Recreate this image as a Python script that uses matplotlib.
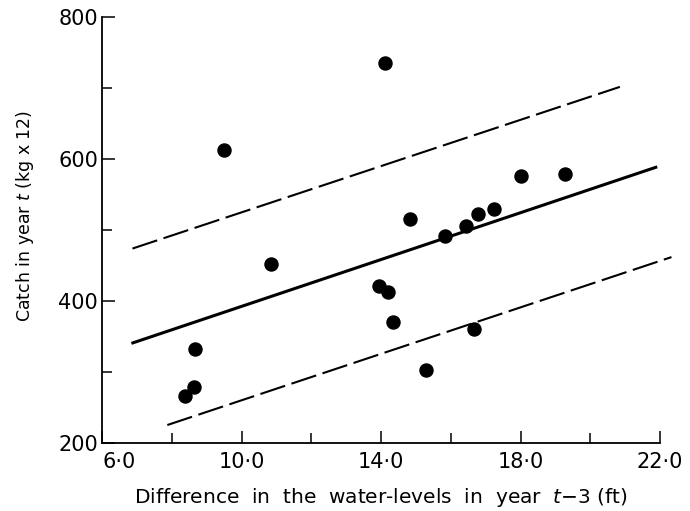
import matplotlib.pyplot as plt
from matplotlib.ticker import MultipleLocator

# water-level difference in year t-3 (ft) and catch in year t (kg x 12)
water_diff = [8.37, 8.63, 8.65, 9.50, 10.84, 14.11, 13.94, 14.21, 14.35,
              14.83, 15.30, 15.82, 16.43, 16.66, 16.79, 17.24, 18.01, 19.28]
catch = [267, 279, 333, 612, 452, 735, 421, 413, 371,
         515, 303, 491, 506, 361, 522, 530, 576, 579]

# regression line and the two limit lines (end points)
fit_x = [6.84, 21.92]
fit_y = [340.6, 589.0]
upper_x = [6.87, 20.85]
upper_y = [474.0, 701.5]
lower_x = [7.87, 22.33]
lower_y = [225.7, 462.0]

x_ticks = [6, 10, 14, 18, 22]
x_tick_labels = ['6·0', '10·0', '14·0', '18·0', '22·0']
y_ticks = [200, 400, 600, 800]

fig = plt.figure(figsize=(6.9, 5.11), dpi=100)
ax = fig.add_axes([0.148, 0.1325, 0.8085, 0.8345])

ax.plot(fit_x, fit_y, color='black', linewidth=2.2, solid_capstyle='butt')
ax.plot(upper_x, upper_y, color='black', linewidth=1.5, dashes=(12.5, 3.2))
ax.plot(lower_x, lower_y, color='black', linewidth=1.5, dashes=(12.5, 3.2),
        clip_on=False)
ax.plot(water_diff, catch, 'o', color='black', markersize=9.4, clip_on=False)

ax.set_xlim(6, 22)
ax.set_ylim(200, 800)
ax.set_xticks(x_ticks)
ax.set_xticklabels(x_tick_labels)
ax.set_yticks(y_ticks)
ax.xaxis.set_minor_locator(MultipleLocator(2))
ax.yaxis.set_minor_locator(MultipleLocator(100))
ax.tick_params(which='major', direction='in', length=9, width=1.1,
               labelsize=15, pad=6)
ax.tick_params(which='minor', direction='in', length=7, width=1.1)
ax.tick_params(axis='y', pad=3)
ax.get_xticklabels()[0].set_horizontalalignment('left')

for side in ['top', 'right']:
    ax.spines[side].set_visible(False)
for side in ['left', 'bottom']:
    ax.spines[side].set_linewidth(1.3)

ax.set_xlabel('Difference  in  the  water-levels  in  year  $t$−3 (ft)',
              fontsize=14.5, labelpad=10)
ax.set_ylabel('Catch in year $t$ (kg x 12)', fontsize=12.5)
ax.yaxis.set_label_coords(-0.118, 0.533)

fig.savefig('out.png', dpi=100)
